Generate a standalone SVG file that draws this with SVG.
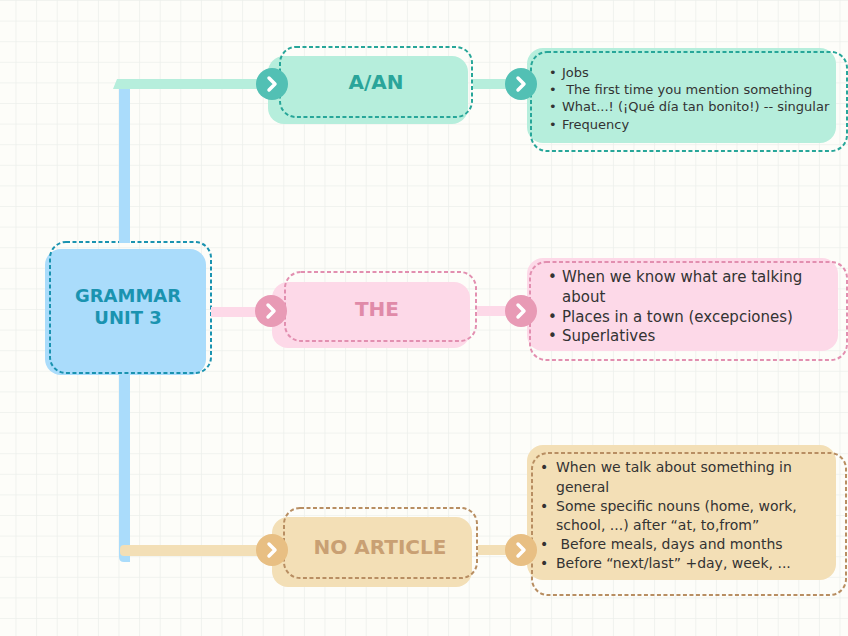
<svg xmlns="http://www.w3.org/2000/svg" width="848" height="636" viewBox="0 0 848 636">
<defs>
<pattern id="grid" patternUnits="userSpaceOnUse" x="15.5" y="0" width="20.6" height="20.6">
<path d="M0,0 H20.6 M0,0 V20.6" stroke="#edf0ec" stroke-width="1.6" fill="none"/>
</pattern>
</defs>
<style>
.title{font-family:"DejaVu Sans",sans-serif;font-weight:bold;text-anchor:middle}
.body{font-family:"DejaVu Sans",sans-serif;fill:#333333}
.chev{fill:none;stroke:#ffffff;stroke-width:3.5;stroke-linecap:round;stroke-linejoin:round}
.dash{fill:none;stroke-width:2;stroke-dasharray:4 2.5}
</style>
<rect width="848" height="636" fill="#fdfdf9"/>
<rect width="848" height="636" fill="url(#grid)"/>

<g id="central">
<rect x="45" y="249" width="161" height="126" rx="16" fill="#aadcfb"/>
<rect x="50" y="242" width="161" height="131" rx="16" class="dash" stroke="#1a93b0"/>
<text class="title" x="128" y="302" font-size="18" fill="#1a93b0">GRAMMAR</text>
<text class="title" x="128" y="324" font-size="18" fill="#1a93b0">UNIT 3</text>
</g>

<g id="aan">
<rect x="268" y="56" width="200" height="68" rx="16" fill="#b6eedc"/>
<rect x="280" y="47" width="192" height="70" rx="16" class="dash" stroke="#27a699"/>
<text class="title" x="376" y="89" font-size="20" fill="#2aa59a">A/AN</text>
</g>

<g id="the">
<rect x="272" y="282" width="198" height="66" rx="16" fill="#fdd9e8"/>
<rect x="285" y="272" width="191" height="69" rx="16" class="dash" stroke="#e28fb0"/>
<text class="title" x="377" y="316" font-size="20" fill="#e08aa8">THE</text>
</g>

<g id="noarticle">
<rect x="272" y="517" width="200" height="70" rx="16" fill="#f3dfb6"/>
<rect x="284" y="508" width="193" height="70" rx="16" class="dash" stroke="#b88e62"/>
<text class="title" x="380" y="554" font-size="20" fill="#c9a073">NO ARTICLE</text>
</g>

<g id="aan-details">
<rect x="527" y="48" width="309" height="95" rx="16" fill="#b6eedc"/>
<rect x="531" y="52" width="316" height="99" rx="16" class="dash" stroke="#27a699"/>
<g class="body" font-size="13">
<text x="549" y="77">•</text><text x="562" y="77">Jobs</text>
<text x="549" y="94">•</text><text x="562" y="94">&#160;The first time you mention something</text>
<text x="549" y="111">•</text><text x="562" y="111">What...! (¡Qué día tan bonito!) -- singular</text>
<text x="549" y="129">•</text><text x="562" y="129">Frequency</text>
</g>
</g>

<g id="the-details">
<rect x="527" y="258" width="311" height="93" rx="16" fill="#fdd9e8"/>
<rect x="530" y="262" width="317" height="98" rx="16" class="dash" stroke="#e28fb0"/>
<g class="body" font-size="15">
<text x="548" y="282">•</text><text x="562" y="282">When we know what are talking</text>
<text x="562" y="302">about</text>
<text x="548" y="322">•</text><text x="562" y="322">Places in a town (excepciones)</text>
<text x="548" y="341">•</text><text x="562" y="341">Superlatives</text>
</g>
</g>

<g id="noarticle-details">
<rect x="527" y="445" width="309" height="135" rx="16" fill="#f3dfb6"/>
<rect x="532" y="453" width="314" height="142" rx="16" class="dash" stroke="#b88e62"/>
<g class="body" font-size="14">
<text x="540" y="472">•</text><text x="556" y="472">When we talk about something in</text>
<text x="556" y="492">general</text>
<text x="540" y="511">•</text><text x="556" y="511">Some specific nouns (home, work,</text>
<text x="556" y="530">school, ...) after “at, to,from”</text>
<text x="540" y="549">•</text><text x="556" y="549">&#160;Before meals, days and months</text>
<text x="540" y="568">•</text><text x="556" y="568">Before “next/last” +day, week, ...</text>
</g>
</g>

<g id="connectors">
<rect x="119" y="86" width="11" height="157" fill="#aadcfb"/>
<path d="M119,374 H130 V562 H124 Q119,562 119,557 Z" fill="#aadcfb"/>
<path d="M117,79 H272 V89 H113 Z" fill="#b6eedc"/>
<rect x="211" y="307" width="60" height="10" fill="#fdd9e8"/>
<path d="M124,545 H272 V556 H124 Q120,556 120,552 V549 Q120,545 124,545 Z" fill="#f3dfb6"/>
<rect x="473" y="79" width="49" height="10" fill="#b6eedc"/>
<rect x="477" y="306" width="45" height="10" fill="#fdd9e8"/>
<rect x="478" y="545" width="44" height="10" fill="#f3dfb6"/>
<g id="c1"><circle cx="272" cy="84" r="16" fill="#52c0b4"/><path class="chev" d="M269,78 L275,84 L269,90"/></g>
<g id="c2"><circle cx="521" cy="84" r="16" fill="#52c0b4"/><path class="chev" d="M518,78 L524,84 L518,90"/></g>
<g id="c3"><circle cx="271" cy="311" r="16" fill="#e89ab5"/><path class="chev" d="M268,305 L274,311 L268,317"/></g>
<g id="c4"><circle cx="521" cy="311" r="16" fill="#e89ab5"/><path class="chev" d="M518,305 L524,311 L518,317"/></g>
<g id="c5"><circle cx="272" cy="550" r="16" fill="#e8bf83"/><path class="chev" d="M269,544 L275,550 L269,556"/></g>
<g id="c6"><circle cx="521" cy="550" r="16" fill="#e8bf83"/><path class="chev" d="M518,544 L524,550 L518,556"/></g>
</g>
</svg>
